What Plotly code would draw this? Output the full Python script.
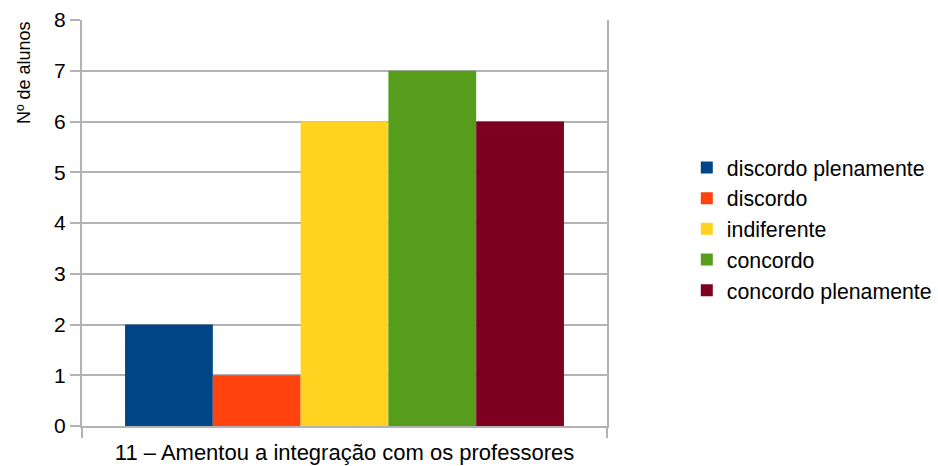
import plotly.graph_objects as go

category = ["11 – Amentou a integração com os professores"]
series_names = ["discordo plenamente", "discordo", "indiferente", "concordo", "concordo plenamente"]
series_values = [2, 1, 6, 7, 6]
series_colors = ["#004586", "#ff420e", "#ffd320", "#579d1c", "#7e0021"]
y_ticks = [0, 1, 2, 3, 4, 5, 6, 7, 8]

FONT = "Liberation Sans, Arial, sans-serif"
GRID = "#b3b3b3"

fig = go.Figure()
for name, val, col in zip(series_names, series_values, series_colors):
    fig.add_trace(go.Bar(x=category, y=[val], name=name, marker=dict(color=col, line=dict(width=0))))

fig.update_layout(
    width=938, height=466,
    margin=dict(l=82, r=331, t=20, b=40, autoexpand=False),
    paper_bgcolor="white", plot_bgcolor="white",
    barmode="group", bargap=0.164, bargroupgap=0,
    font=dict(family=FONT, size=21, color="black"),
    showlegend=True,
    legend=dict(x=1.152, xanchor="left", y=0.485, yanchor="middle",
                font=dict(family=FONT, size=21.3, color="black"),
                itemsizing="constant", tracegroupgap=0, bgcolor="rgba(0,0,0,0)"),
    xaxis=dict(type="category", showline=True, linecolor=GRID, linewidth=2, automargin=False,
               ticks="outside", tickson="boundaries", ticklen=10, tickcolor=GRID, tickwidth=2,
               ticklabelstandoff=6,
               showgrid=False, tickfont=dict(family=FONT, size=22, color="black")),
    yaxis=dict(range=[0, 8], tickvals=y_ticks, showline=True, linecolor=GRID, linewidth=2,
               mirror=True, ticks="outside", ticklen=10, tickcolor=GRID, tickwidth=2,
               automargin=False,
               showgrid=True, gridcolor=GRID, gridwidth=2, zeroline=False,
               tickfont=dict(family=FONT, size=21, color="black")),
)

fig.add_annotation(text="Nº de alunos", xref="paper", yref="paper", x=-0.11, y=0.87,
                   xanchor="center", yanchor="middle", textangle=-90, showarrow=False,
                   font=dict(family=FONT, size=18, color="black"))

fig.write_html("out.html")
